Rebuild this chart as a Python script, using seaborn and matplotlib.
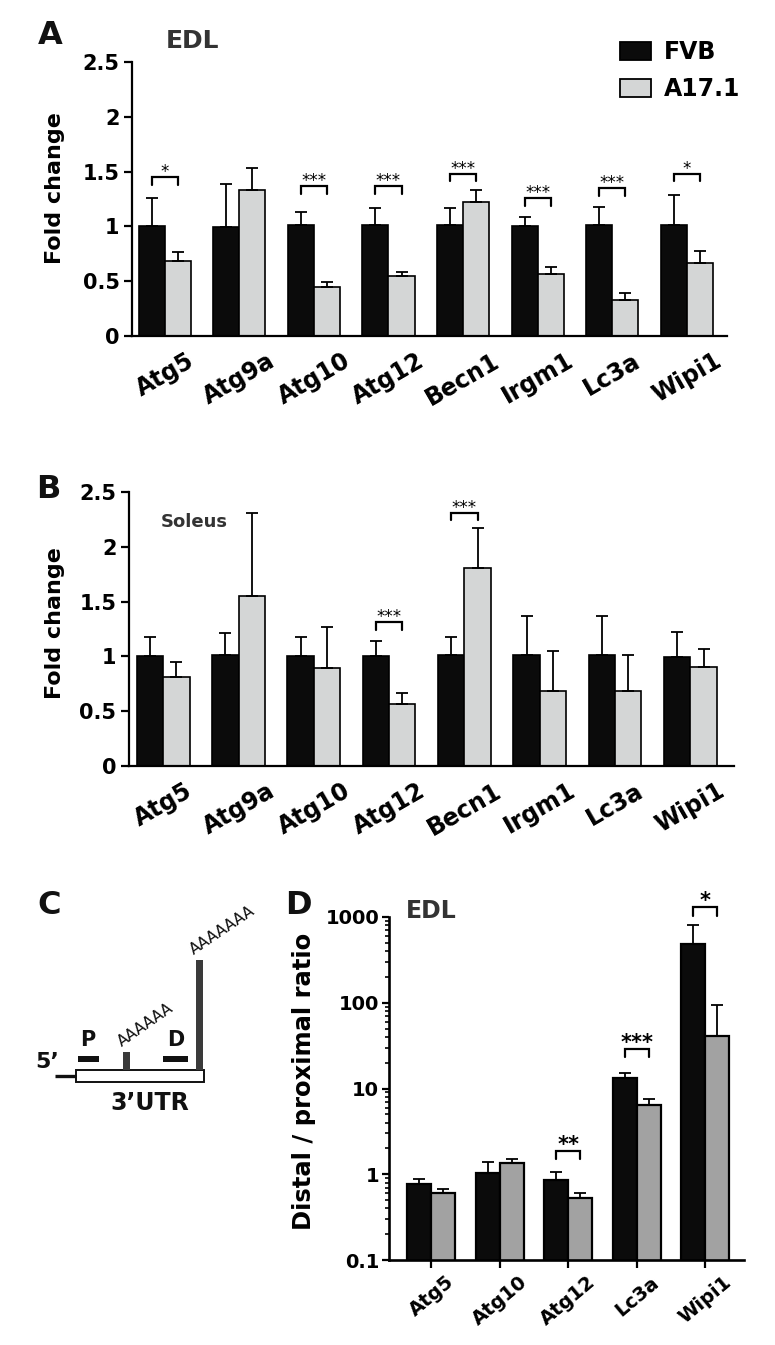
import numpy as np
import pandas as pd
import matplotlib
matplotlib.use('Agg')
import matplotlib.pyplot as plt
import seaborn as sns
from matplotlib.patches import Patch, Rectangle
from matplotlib.ticker import LogLocator, NullFormatter, FixedLocator

sns.set_style('ticks')
plt.rcParams['font.family'] = ['DejaVu Sans']
plt.rcParams['font.weight'] = 'bold'
plt.rcParams['axes.labelweight'] = 'bold'
for key in ['text.color', 'axes.labelcolor', 'xtick.color', 'ytick.color', 'axes.edgecolor']:
    plt.rcParams[key] = 'black'

# ---- data ----
genes = ['Atg5', 'Atg9a', 'Atg10', 'Atg12', 'Becn1', 'Irgm1', 'Lc3a', 'Wipi1']

# A: EDL fold change (mean and top of SEM bar)
edl_fvb = [1.00, 0.99, 1.01, 1.01, 1.01, 1.00, 1.01, 1.01]
edl_fvb_top = [1.26, 1.39, 1.13, 1.17, 1.17, 1.09, 1.18, 1.29]
edl_a17 = [0.68, 1.33, 0.45, 0.55, 1.22, 0.57, 0.33, 0.67]
edl_a17_top = [0.77, 1.53, 0.49, 0.58, 1.33, 0.63, 0.39, 0.78]
edl_sig = ['*', '', '***', '***', '***', '***', '***', '*']
edl_sig_y = [1.45, 0, 1.37, 1.37, 1.48, 1.26, 1.35, 1.48]

# B: Soleus fold change
sol_fvb = [1.00, 1.01, 1.00, 1.00, 1.01, 1.01, 1.01, 0.99]
sol_fvb_top = [1.18, 1.21, 1.18, 1.14, 1.18, 1.37, 1.37, 1.22]
sol_a17 = [0.81, 1.55, 0.89, 0.57, 1.81, 0.68, 0.68, 0.90]
sol_a17_top = [0.95, 2.31, 1.27, 0.67, 2.17, 1.05, 1.01, 1.07]
sol_sig = ['', '', '', '***', '***', '', '', '']
sol_sig_y = [0, 0, 0, 1.31, 2.31, 0, 0, 0]

# D: distal / proximal ratio, EDL
genes_d = ['Atg5', 'Atg10', 'Atg12', 'Lc3a', 'Wipi1']
ratio_fvb = [0.76, 1.04, 0.85, 13.1, 490]
ratio_fvb_top = [0.87, 1.39, 1.06, 15.2, 815]
ratio_a17 = [0.60, 1.34, 0.53, 6.4, 41]
ratio_a17_top = [0.68, 1.51, 0.61, 7.6, 93]
ratio_sig = ['', '', '**', '***', '*']
ratio_sig_y = [0, 0, 1.86, 29, 1300]

strains = ['FVB', 'A17.1']

W, H = 775, 1345
fig = plt.figure(figsize=(W / 100, H / 100), dpi=100)

BLACK = '#0b0b0b'
LIGHT = '#d4d6d6'
DARK = '#a2a2a2'


def rect(l, t, r, b):
    return [l / W, 1 - b / H, (r - l) / W, (b - t) / H]


def fxy(x, y):
    return x / W, 1 - y / H


def bar_panel(ax, names, fvb, fvb_top, a17, a17_top, gray, lw=1.2):
    df = pd.DataFrame({
        'gene': list(names) * 2,
        'strain': [strains[0]] * len(names) + [strains[1]] * len(names),
        'value': list(fvb) + list(a17),
    })
    sns.barplot(data=df, x='gene', y='value', hue='strain', order=names,
                hue_order=strains, palette={strains[0]: BLACK, strains[1]: gray},
                width=0.7, errorbar=None, edgecolor='black', linewidth=lw,
                saturation=1, legend=False, ax=ax)
    centers = []
    for cont, mean, top in zip(ax.containers, [fvb, a17], [fvb_top, a17_top]):
        xs = [p.get_x() + p.get_width() / 2 for p in cont]
        up = np.array(top) - np.array(mean)
        ax.errorbar(xs, mean, yerr=[np.zeros(len(up)), up], fmt='none',
                    ecolor='black', elinewidth=1.3, capsize=4, capthick=1.3)
        centers.append(xs)
    ax.set_xlabel('')
    return centers


def brackets(ax, centers, labels, heights, leg, fs, log=False):
    for i, (lab, h) in enumerate(zip(labels, heights)):
        if not lab:
            continue
        x0, x1 = centers[0][i], centers[1][i]
        lo = h / leg if log else h - leg
        ax.plot([x0, x0, x1, x1], [lo, h, h, lo], color='black', lw=1.6,
                clip_on=False, solid_joinstyle='miter')
        ax.annotate(lab, (0.5 * (x0 + x1), h), xytext=(0, 0),
                    textcoords='offset points', ha='center', va='baseline',
                    fontsize=fs, fontweight='normal' if not log else 'bold',
                    annotation_clip=False)


def style_linear(ax, xlim):
    sns.despine(ax=ax)
    for s in ['left', 'bottom']:
        ax.spines[s].set_linewidth(1.6)
    ax.set_xlim(*xlim)
    ax.set_ylim(0, 2.5)
    ax.set_yticks([0, 0.5, 1, 1.5, 2, 2.5])
    ax.set_yticklabels(['0', '0.5', '1', '1.5', '2', '2.5'])
    ax.tick_params(axis='y', length=6, width=1.6, labelsize=15, pad=3)
    ax.tick_params(axis='x', length=0, labelsize=17, pad=9)
    for t in ax.get_xticklabels():
        t.set_rotation(30)
        t.set_ha('center')


# ---- A ----
ax_a = fig.add_axes(rect(132, 62, 727, 336))
cen_a = bar_panel(ax_a, genes, edl_fvb, edl_fvb_top, edl_a17, edl_a17_top, LIGHT)
style_linear(ax_a, (-0.44, 7.54))
brackets(ax_a, cen_a, edl_sig, edl_sig_y, 0.07, 12)
ax_a.set_ylabel('Fold change', fontsize=16)
ax_a.yaxis.set_label_coords(-0.113, 0.54)
ax_a.legend(handles=[Patch(fc=BLACK, ec='black', lw=1.3), Patch(fc=LIGHT, ec='black', lw=1.3)],
            labels=strains, loc='upper left', bbox_to_anchor=fxy(620, 40),
            bbox_transform=fig.transFigure, frameon=False,
            prop={'size': 17, 'weight': 'bold'}, handlelength=1.3, handleheight=0.8,
            handletextpad=0.55, labelspacing=0.55, borderpad=0, borderaxespad=0)

# ---- B ----
ax_b = fig.add_axes(rect(129, 492, 734, 766))
cen_b = bar_panel(ax_b, genes, sol_fvb, sol_fvb_top, sol_a17, sol_a17_top, LIGHT)
style_linear(ax_b, (-0.455, 7.58))
brackets(ax_b, cen_b, sol_sig, sol_sig_y, 0.07, 12)
ax_b.set_ylabel('Fold change', fontsize=16)
ax_b.yaxis.set_label_coords(-0.105, 0.52)

# ---- D ----
ax_d = fig.add_axes(rect(389, 917, 744, 1260))
cen_d = bar_panel(ax_d, genes_d, ratio_fvb, ratio_fvb_top, ratio_a17, ratio_a17_top, DARK, lw=1.6)
ax_d.set_yscale('log')
ax_d.set_ylim(0.1, 1000)
ax_d.set_xlim(-0.62, 4.57)
sns.despine(ax=ax_d)
for s in ['left', 'bottom']:
    ax_d.spines[s].set_linewidth(1.9)
ax_d.yaxis.set_major_locator(FixedLocator([0.1, 1, 10, 100, 1000]))
ax_d.set_yticklabels(['0.1', '1', '10', '100', '1000'])
ax_d.yaxis.set_minor_locator(LogLocator(base=10, subs=np.arange(2, 10)))
ax_d.yaxis.set_minor_formatter(NullFormatter())
ax_d.tick_params(axis='y', which='major', length=5, width=1.6, labelsize=14, pad=2)
ax_d.tick_params(axis='y', which='minor', length=3, width=1.2)
ax_d.tick_params(axis='x', length=6, width=1.6, labelsize=14, pad=3)
for t in ax_d.get_xticklabels():
    t.set_rotation(40)
    t.set_ha('center')
brackets(ax_d, cen_d, ratio_sig, ratio_sig_y, 1.25, 15, log=True)
ax_d.set_ylabel('Distal / proximal ratio', fontsize=17.5)
ax_d.yaxis.set_label_coords(-0.205, 0.52)

# ---- C: 3'UTR schematic (local pixel units) ----
ax_c = fig.add_axes([0, 0, 1, 1])
ax_c.set_xlim(0, W)
ax_c.set_ylim(H, 0)
ax_c.axis('off')
ax_c.patch.set_visible(False)
ink = '#111111'
stub = '#3a3a3a'
ax_c.plot([55, 76], [1076, 1076], color=ink, lw=2.4, solid_capstyle='butt')
ax_c.add_patch(Rectangle((76, 1070), 128, 12, fc='white', ec=ink, lw=1.4))
ax_c.add_patch(Rectangle((78, 1056), 21, 6, fc=ink, ec='none'))
ax_c.add_patch(Rectangle((163, 1056), 25, 6, fc=ink, ec='none'))
ax_c.add_patch(Rectangle((123, 1052), 6.5, 18, fc=stub, ec='none'))
ax_c.add_patch(Rectangle((196, 960), 7, 110, fc=stub, ec='none'))
ax_c.text(124, 1049, 'AAAAAA', rotation=35, rotation_mode='anchor', ha='left',
          va='bottom', fontsize=11, fontweight='normal', color=ink)
ax_c.text(196, 957, 'AAAAAAA', rotation=34, rotation_mode='anchor', ha='left',
          va='bottom', fontsize=11, fontweight='normal', color=ink)
ax_c.text(88, 1040, 'P', ha='center', va='center', fontsize=15, color=ink)
ax_c.text(176, 1040, 'D', ha='center', va='center', fontsize=15, color=ink)
ax_c.text(47, 1062, '5\u2019', ha='center', va='center', fontsize=16, color=ink)
ax_c.text(150, 1103, '3\u2019UTR', ha='center', va='center', fontsize=17, color=ink)

# ---- panel letters and titles ----
for x, y, s in [(50, 36, 'A'), (48, 489, 'B'), (49, 906, 'C'), (298, 906, 'D')]:
    fig.text(*fxy(x, y), s, fontsize=23, ha='center', va='center', color='#111111')
fig.text(*fxy(193, 41), 'EDL', fontsize=18, ha='center', va='center', color='#333333')
fig.text(*fxy(194, 522), 'Soleus', fontsize=13, ha='center', va='center', color='#333333')
fig.text(*fxy(431, 911), 'EDL', fontsize=17, ha='center', va='center', color='#333333')

fig.savefig('out.png', dpi=100)
